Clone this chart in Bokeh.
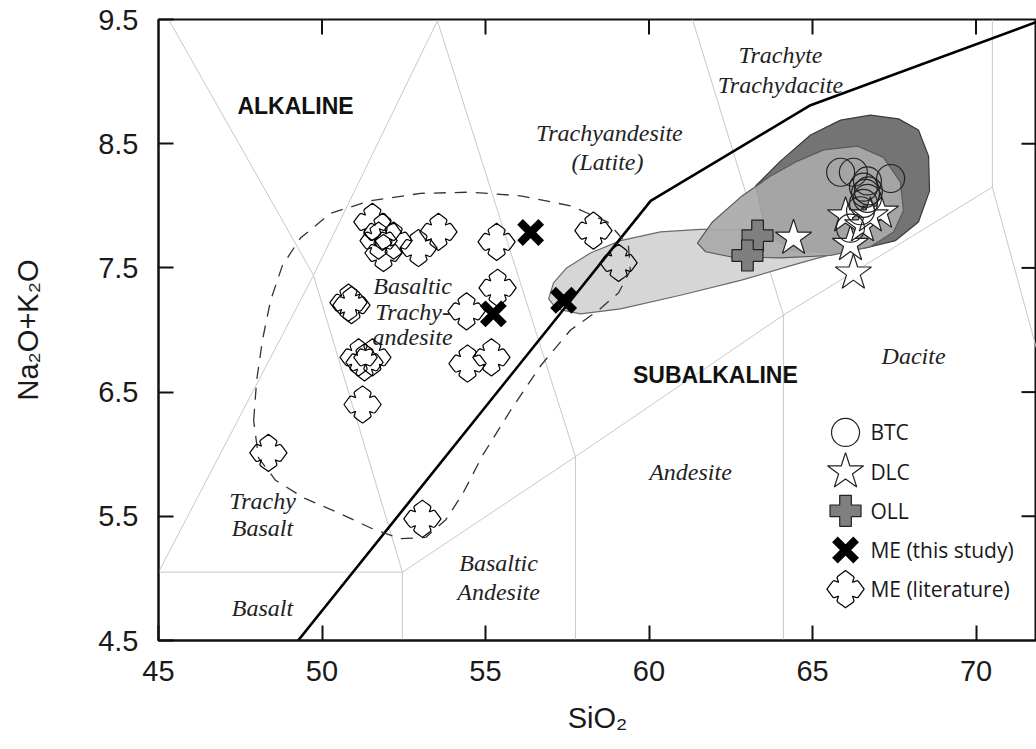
import numpy as np
from bokeh.plotting import figure
from bokeh.models import FixedTicker, Range1d
from bokeh.core.properties import value
from bokeh.embed import file_html
from bokeh.resources import INLINE

# ---------------- data ----------------
btc_sio2 = [65.86, 66.25, 66.68, 67.39, 66.56, 66.62, 66.68, 66.56, 66.47, 66.16, 66.71]
btc_alk = [8.27, 8.27, 8.20, 8.22, 8.15, 8.10, 8.06, 8.02, 7.96, 7.82, 8.12]

dlc_sio2 = [64.42, 66.25, 66.16, 66.01, 67.08, 66.53, 66.77]
dlc_alk = [7.74, 7.46, 7.69, 7.92, 7.95, 7.84, 7.92]

oll_sio2 = [63.32, 63.01]
oll_alk = [7.76, 7.60]

me_sio2 = [56.38, 55.24, 57.39]
me_alk = [7.785, 7.13, 7.24]

mel_sio2 = [51.54, 51.85, 51.88, 51.73, 52.19, 52.95, 53.56, 55.34, 55.37, 54.42, 58.30,
            59.07, 50.81, 50.90, 51.12, 51.54, 51.30, 51.24, 54.45, 55.18, 48.36, 53.07]
mel_alk = [7.87, 7.79, 7.62, 7.72, 7.72, 7.66, 7.79, 7.71, 7.34, 7.15, 7.80,
           7.54, 7.22, 7.20, 6.78, 6.78, 6.74, 6.40, 6.73, 6.78, 6.01, 5.48]

# TAS field boundaries (grey)
field_xs = [[45.31, 49.74], [53.53, 49.74], [45.0, 49.74], [49.74, 52.46],
            [45.0, 52.46], [52.46, 52.46], [52.46, 57.75], [57.75, 57.75],
            [53.53, 57.75], [57.75, 64.11], [64.11, 64.11], [61.33, 64.11],
            [64.11, 70.50], [70.50, 70.50], [70.50, 71.85]]
field_ys = [[9.5, 7.44], [9.49, 7.44], [5.05, 7.44], [7.44, 5.05],
            [5.05, 5.05], [5.05, 4.5], [5.05, 5.98], [5.98, 4.5],
            [9.49, 5.98], [5.98, 7.12], [7.12, 4.5], [9.5, 7.12],
            [7.12, 8.15], [8.15, 9.5], [8.15, 6.85]]

# alkaline / subalkaline divide
divide_x = [49.27, 60.05, 64.94, 71.85]
divide_y = [4.5, 8.04, 8.81, 9.48]

# dashed envelope of ME (literature)
env_x = [47.91, 48.00, 48.18, 48.43, 48.79, 49.34, 50.26, 51.48, 53.01, 54.54, 56.07, 57.60,
         58.73, 59.37, 59.43, 59.07, 58.46, 57.60, 56.68, 55.76, 54.91, 54.30, 53.78, 53.17,
         52.40, 51.54, 50.57, 49.43, 48.58, 48.06, 47.91]
env_y = [6.27, 6.59, 6.92, 7.24, 7.52, 7.74, 7.94, 8.04, 8.10, 8.11, 8.08, 8.00,
         7.87, 7.68, 7.48, 7.30, 7.16, 7.00, 6.71, 6.35, 5.99, 5.68, 5.47, 5.33,
         5.32, 5.40, 5.52, 5.65, 5.79, 5.97, 6.27]

# shaded fields
light_x = [56.93, 57.08, 57.48, 58.21, 59.13, 60.35, 61.57, 62.80, 64.33, 65.70, 66.22,
           66.01, 64.63, 62.80, 60.96, 59.13, 57.91, 57.17]
light_y = [7.25, 7.38, 7.50, 7.62, 7.72, 7.79, 7.81, 7.81, 7.79, 7.74, 7.69,
           7.64, 7.54, 7.40, 7.28, 7.17, 7.13, 7.17]
dark_x = [63.26, 64.02, 64.94, 65.86, 66.77, 67.63, 68.24, 68.55, 68.58, 68.24, 67.54,
          66.62, 65.55, 64.33, 63.56]
dark_y = [8.16, 8.36, 8.57, 8.69, 8.73, 8.70, 8.61, 8.40, 8.12, 7.87, 7.72,
          7.66, 7.62, 7.64, 7.80]
mid_x = [61.48, 61.94, 62.80, 63.72, 64.54, 65.34, 66.38, 67.17, 67.69, 67.78, 67.48,
         66.77, 65.55, 64.02, 62.49, 61.73]
mid_y = [7.70, 7.87, 8.07, 8.24, 8.36, 8.45, 8.48, 8.39, 8.19, 7.96, 7.79,
         7.67, 7.60, 7.58, 7.59, 7.63]

# field names
name_text = ["Trachyte", "Trachydacite", "Trachyandesite", "(Latite)", "Basaltic", "Trachy-",
             "andesite", "Dacite", "Andesite", "Basaltic", "Andesite", "Trachy", "Basalt", "Basalt"]
name_x = [64.02, 64.02, 58.79, 58.73, 52.77, 52.77, 52.77, 68.09, 61.27, 55.40, 55.40,
          48.18, 48.18, 48.18]
name_y = [9.218, 8.969, 8.590, 8.349, 7.358, 7.141, 6.940, 6.787, 5.853, 5.128, 4.887,
          5.627, 5.402, 4.758]
series_text = ["ALKALINE", "SUBALKALINE"]
series_x = [49.19, 62.03]
series_y = [8.80, 6.634]

legend_labels = ["BTC", "DLC", "OLL", "ME (this study)", "ME (literature)"]

x_ticks = [45, 50, 55, 60, 65, 70]
y_ticks = [4.5, 5.5, 6.5, 7.5, 8.5, 9.5]

# ---------------- figure ----------------
W, H = 1036, 749
BL, BT, BB = 158, 19, 109
X0, X1, Y0, Y1 = 45, 71.85, 4.5, 9.5

p = figure(width=W, height=H, output_backend="svg", toolbar_location=None,
           x_range=Range1d(X0, X1), y_range=Range1d(Y0, Y1),
           x_axis_label="SiO₂", y_axis_label="Na₂O+K₂O",
           min_border_left=BL, min_border_right=0, min_border_top=BT, min_border_bottom=BB)
p.outline_line_color = "#111111"
p.outline_line_width = 2
p.xgrid.visible = False
p.ygrid.visible = False
p.background_fill_color = "white"

sx = (W - BL) / (X1 - X0)
sy = (H - BT - BB) / (Y1 - Y0)
TICK = 15

AX_FONT = "Liberation Sans"
for ax in (p.xaxis[0], p.yaxis[0]):
    ax.axis_line_width = 2
    ax.axis_line_color = "#111111"
    ax.major_tick_line_width = 2
    ax.major_tick_line_color = "#111111"
    ax.major_tick_in = TICK
    ax.major_tick_out = 0
    ax.minor_tick_line_color = None
    ax.major_label_text_font = AX_FONT
    ax.major_label_text_font_size = "29px"
    ax.major_label_text_color = "#1a1a1a"
    ax.axis_label_text_font = AX_FONT
    ax.axis_label_text_font_size = "29px"
    ax.axis_label_text_font_style = "normal"
    ax.axis_label_text_color = "#1a1a1a"
    ax.major_label_standoff = 20
p.xaxis[0].ticker = FixedTicker(ticks=x_ticks)
p.yaxis[0].ticker = FixedTicker(ticks=y_ticks)
p.xaxis[0].axis_label_standoff = 18
p.yaxis[0].axis_label_standoff = 51

# inward ticks on the top and right frame edges
top_t = x_ticks[1:]
p.segment(x0=top_t, y0=[Y1] * len(top_t), x1=top_t, y1=[Y1 - TICK / sy] * len(top_t),
          line_color="#111111", line_width=2)
right_t = y_ticks[1:-1]
p.segment(x0=[X1] * len(right_t), y0=right_t, x1=[X1 - TICK / sx] * len(right_t), y1=right_t,
          line_color="#111111", line_width=2)

# field boundaries
p.multi_line(field_xs, field_ys, line_color="#c8c8c8", line_width=1)

# shaded fields
p.patch(light_x, light_y, fill_color="#d6d6d6", line_color="#6a6a6a", line_width=1.2)
p.patch(dark_x, dark_y, fill_color="#747474", line_color="#3a3a3a", line_width=1.2)
p.patch(mid_x, mid_y, fill_color="#a9a9a9", fill_alpha=0.92, line_color="#5a5a5a", line_width=1.2)

# divide & envelope
p.line(divide_x, divide_y, line_color="black", line_width=2.6)
p.line(env_x, env_y, line_color="#333333", line_width=1.3, line_dash="12 9")

# field names
p.text(name_x, name_y, text=name_text, text_font=value("Liberation Serif"),
       text_font_style="italic", text_font_size="24px", text_color="#222222",
       text_align="center", text_baseline="middle")
p.text(series_x, series_y, text=series_text, text_font=value("Liberation Sans"),
       text_font_style="bold", text_font_size="23px", text_color="#111111",
       text_align="center", text_baseline="middle")

# cross-with-pointed-arms shape (ME literature): one octant profile (pixels),
# mirrored across the diagonal and rotated four times
oct_px = np.array([[0.0, 18.6], [3.0, 16.4], [6.0, 14.2], [7.9, 12.7], [8.5, 11.6],
                   [8.2, 10.2], [7.6, 8.9], [7.0, 7.0]])
quarter = np.vstack([oct_px, oct_px[::-1][1:, ::-1]])  # tip-up -> tip-right
pieces = []
for k in range(4):
    a = -k * np.pi / 2
    rot = np.array([[np.cos(a), -np.sin(a)], [np.sin(a), np.cos(a)]])
    pieces.append(quarter[:-1] @ rot.T)
shape = np.vstack(pieces)
qx = shape[:, 0] / sx
qy = shape[:, 1] / sy


def cross_shapes(xs, ys):
    return [list(x + qx) for x in xs], [list(y + qy) for y in ys]


mx, my = cross_shapes(mel_sio2, mel_alk)
p.patches(mx, my, fill_color=None, line_color="black", line_width=1.2, line_join="round")

# markers
p.scatter(oll_sio2, oll_alk, marker="plus", size=31, fill_color="#7f7f7f",
          line_color="#222222", line_width=1.2)
p.scatter(dlc_sio2, dlc_alk, marker="star", size=38, fill_color="white",
          line_color="#222222", line_width=1.2)
p.scatter(btc_sio2, btc_alk, marker="circle", size=28, fill_color=None,
          line_color="#222222", line_width=1.2)
p.scatter(me_sio2, me_alk, marker="x", size=30, line_color="black", line_width=8)

# legend (drawn in data space at a fixed anchor)
lx, ly0, ldy, ltx = 66.01, 6.175, 0.3155, 66.77
ly = [ly0 - i * ldy for i in range(5)]
p.scatter([lx], [ly[0]], marker="circle", size=28, fill_color=None, line_color="#222222", line_width=1.2)
p.scatter([lx], [ly[1]], marker="star", size=38, fill_color="white", line_color="#222222", line_width=1.2)
p.scatter([lx], [ly[2]], marker="plus", size=31, fill_color="#7f7f7f", line_color="#222222", line_width=1.2)
p.scatter([lx], [ly[3]], marker="x", size=30, line_color="black", line_width=8)
lqx, lqy = cross_shapes([lx], [ly[4]])
p.patches(lqx, lqy, fill_color=None, line_color="black", line_width=1.2, line_join="round")
p.text([ltx] * 5, ly, text=legend_labels, text_font=value("Open Sans"),
       text_font_size="21px", text_color="#1a1a1a", text_align="left", text_baseline="middle")

open("out.html", "w").write(file_html(p, INLINE))
